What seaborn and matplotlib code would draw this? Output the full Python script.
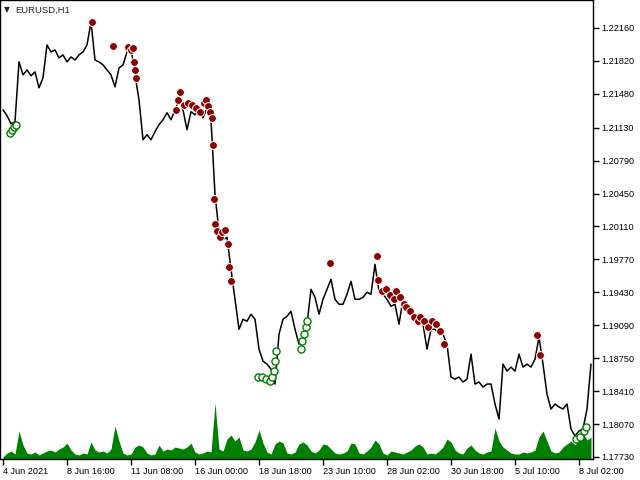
import numpy as np
import pandas as pd
import matplotlib
matplotlib.use("Agg")
import matplotlib.pyplot as plt
import seaborn as sns

# EURUSD H1 closes, sampled every 4 bars
close = [
    1.21315, 1.21254, 1.21171, 1.21192, 1.21810, 1.21676, 1.21727, 1.21666,
    1.21707, 1.21542, 1.21645, 1.21985, 1.21913, 1.21933, 1.21851, 1.21882,
    1.21810, 1.21861, 1.21830, 1.21882, 1.21913, 1.21985, 1.22222, 1.21830,
    1.21810, 1.21779, 1.21727, 1.21676, 1.21552, 1.21748, 1.21779, 1.21913,
    1.21954, 1.21676, 1.21418, 1.21006, 1.21058, 1.21006, 1.21089, 1.21161,
    1.21212, 1.21285, 1.21212, 1.21315, 1.21418, 1.21315, 1.21109, 1.21295,
    1.21264, 1.21315, 1.21233, 1.21336, 1.21212, 1.20440, 1.20059, 1.19976,
    1.19997, 1.19667, 1.19358, 1.19049, 1.19152, 1.19132, 1.19204, 1.19152,
    1.18843, 1.18720, 1.18689, 1.18637, 1.18483, 1.18998, 1.19152, 1.19183,
    1.19235, 1.19049, 1.18895, 1.18946, 1.19101, 1.19461, 1.19379, 1.19204,
    1.19358, 1.19461, 1.19564, 1.19358, 1.19307, 1.19307, 1.19410, 1.19544,
    1.19358, 1.19358, 1.19379, 1.19431, 1.19410, 1.19719, 1.19441, 1.19410,
    1.19358, 1.19286, 1.19307, 1.19101, 1.19358, 1.19286, 1.19235, 1.19173,
    1.19132, 1.19101, 1.18843, 1.19049, 1.19049, 1.18998, 1.18998, 1.18895,
    1.18555, 1.18534, 1.18555, 1.18504, 1.18534, 1.18792, 1.18483, 1.18504,
    1.18452, 1.18483, 1.18483, 1.18277, 1.18122, 1.18689, 1.18617, 1.18658,
    1.18617, 1.18792, 1.18658, 1.18689, 1.18658, 1.18740, 1.18967, 1.18689,
    1.18380, 1.18225, 1.18277, 1.18246, 1.18225, 1.18277, 1.18019, 1.17947,
    1.17999, 1.18019, 1.18225, 1.18689,
]

# tick volume, same sampling
volume = [
    240, 720, 960, 600, 3360, 1680, 720, 600, 840, 480, 720, 960, 1080, 840,
    1200, 1440, 1920, 1080, 600, 480, 720, 600, 2040, 1080, 840, 960, 720,
    1200, 3960, 2160, 720, 480, 600, 1440, 1680, 1440, 720, 480, 600, 1680,
    960, 1200, 1080, 1440, 1320, 1200, 1440, 1920, 840, 600, 720, 960, 840,
    6720, 1200, 960, 2400, 2880, 2160, 2640, 1080, 960, 1200, 2040, 3480,
    1920, 840, 600, 1800, 2160, 1920, 720, 600, 840, 1800, 2040, 1680, 960,
    720, 1080, 1800, 1680, 1200, 720, 600, 720, 960, 1920, 1800, 720, 600,
    960, 1440, 2280, 1800, 720, 480, 960, 840, 720, 600, 840, 1080, 1560,
    1800, 1440, 600, 720, 600, 960, 1440, 2400, 2040, 1080, 720, 600, 1320,
    1680, 1080, 720, 600, 840, 960, 3720, 2160, 1440, 1080, 720, 600, 600,
    840, 720, 840, 1080, 2640, 3360, 2160, 960, 720, 840, 1440, 1800, 2160,
    1680, 2400, 3120, 2280, 2640,
]

# signal arrows (bar index, price)
sell_bar = [89, 110, 125, 128, 130, 131, 132, 133, 173, 175, 177, 181, 185,
            189, 193, 197, 201, 203, 205, 207, 209, 210, 211, 212, 214, 217,
            219, 222, 225, 226, 228, 327, 374, 375, 379, 383, 387, 391, 393,
            397, 401, 403, 407, 411, 415, 417, 421, 425, 429, 433, 437, 441,
            534, 537]
sell_price = [1.22222, 1.21975, 1.21964, 1.21933, 1.21954, 1.21810, 1.21727,
              1.21645, 1.21315, 1.21418, 1.21501, 1.21367, 1.21388, 1.21367,
              1.21336, 1.21295, 1.21388, 1.21418, 1.21357, 1.21295, 1.21233,
              1.20955, 1.20399, 1.20131, 1.20059, 1.19997, 1.20049, 1.20079,
              1.19925, 1.19688, 1.19544, 1.19729, 1.19801, 1.19554, 1.19441,
              1.19461, 1.19400, 1.19358, 1.19441, 1.19379, 1.19307, 1.19276,
              1.19235, 1.19173, 1.19132, 1.19173, 1.19132, 1.19070, 1.19132,
              1.19101, 1.19029, 1.18895, 1.18988, 1.18782]
buy_bar = [7, 9, 11, 13, 255, 259, 263, 267, 269, 271, 272, 273, 298, 299,
           301, 303, 304, 573, 577, 581, 583]
buy_price = [1.21079, 1.21109, 1.21140, 1.21161, 1.18555, 1.18555, 1.18534,
             1.18514, 1.18555, 1.18617, 1.18720, 1.18823, 1.18843, 1.18926,
             1.18998, 1.19070, 1.19132, 1.17916, 1.17937, 1.17999, 1.18040]

price_ticks = [1.22160, 1.21820, 1.21480, 1.21130, 1.20790, 1.20450, 1.20110,
               1.19770, 1.19430, 1.19090, 1.18750, 1.18410, 1.18070, 1.17730]
time_labels = ["4 Jun 2021", "8 Jun 16:00", "11 Jun 08:00", "16 Jun 00:00",
               "18 Jun 18:00", "23 Jun 10:00", "28 Jun 02:00", "30 Jun 18:00",
               "5 Jul 10:00", "8 Jul 02:00"]

sns.set_style("white")
plt.rcParams["font.family"] = ["Liberation Sans", "DejaVu Sans"]

step = 4
df = pd.DataFrame({"bar": np.arange(len(close)) * step, "close": close})
vol = pd.DataFrame({"bar": np.arange(len(volume)) * step, "volume": volume})

fig = plt.figure(figsize=(6.4, 4.8), dpi=100)
ax = fig.add_axes([0, 21 / 480, 593 / 640, 459 / 480])
vax = ax.twinx()

vax.fill_between(vol["bar"], 0, vol["volume"], color="#008000", lw=0)
vax.set_ylim(0, 55080)
vax.set_yticks([])
for s in vax.spines.values():
    s.set_visible(False)

ax.set_zorder(vax.get_zorder() + 1)
ax.patch.set_visible(False)

sns.lineplot(data=df, x="bar", y="close", color="black", lw=1.1, ax=ax)
sns.scatterplot(x=sell_bar, y=sell_price, color="#8b0000", edgecolor="white",
                linewidth=0.7, s=32, ax=ax, zorder=3)
sns.scatterplot(x=buy_bar, y=buy_price, color="white", edgecolor="#008000",
                linewidth=1.0, s=26, ax=ax, zorder=3)

ax.set_xlim(-3, 590)
ax.set_ylim(1.17709, 1.22449)
ax.set_xlabel("")
ax.set_ylabel("")

ax.yaxis.tick_right()
ax.set_yticks(price_ticks)
ax.set_yticklabels([f"{p:.5f}" for p in price_ticks])
ax.set_xticks(np.arange(len(time_labels)) * 64)
ax.set_xticklabels(time_labels, ha="left")
ax.tick_params(axis="both", direction="out", length=4, width=1, color="black",
               labelsize=6.6, labelcolor="black", pad=2)
ax.tick_params(left=False, right=True, bottom=True)
for s in ax.spines.values():
    s.set_visible(True)
    s.set_color("black")
    s.set_linewidth(1)

fig.text(4 / 640, 1 - 10 / 480, "\u25bc", fontsize=5.5, va="center", ha="left",
         family="DejaVu Sans")
fig.text(15 / 640, 1 - 10 / 480, "EURUSD,H1", fontsize=6.8, va="center", ha="left")

fig.savefig("out.png", dpi=100)
